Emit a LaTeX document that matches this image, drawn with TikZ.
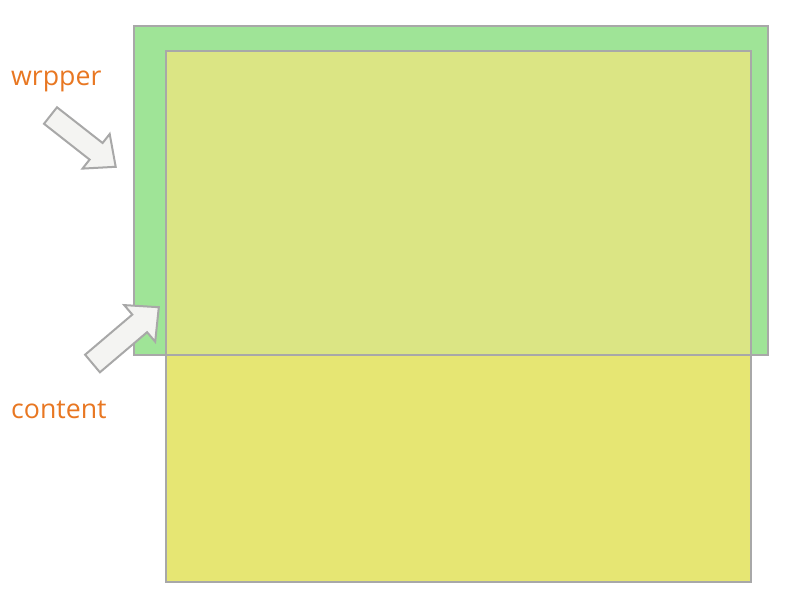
\documentclass[tikz,border=0pt]{standalone}
\usepackage{fontspec}
\setmainfont{Open Sans}
\definecolor{wrapgreen}{RGB}{159,228,151}
\definecolor{overlapcol}{RGB}{219,229,132}
\definecolor{contyellow}{RGB}{230,230,115}
\definecolor{edgegray}{RGB}{168,168,168}
\definecolor{labelorange}{RGB}{232,119,34}
\definecolor{arrowfill}{RGB}{244,244,242}
\tikzset{
  boxedge/.style={draw=edgegray, line width=2pt},
  blockarrow/.style={draw=edgegray, fill=arrowfill, line width=2pt, line join=miter},
  lbl/.style={text=labelorange, font=\fontsize{26.7}{32}\selectfont, inner sep=0pt, anchor=base west}
}
\begin{document}
\begin{tikzpicture}[x=1pt,y=-1pt]
\useasboundingbox (0,0) rectangle (800,609);
% fills
\fill[wrapgreen] (134,26) rectangle (768,355);
\fill[contyellow] (166,51) rectangle (751,582);
\fill[overlapcol] (166,51) rectangle (751,355);
% borders
\draw[boxedge] (134,26) rectangle (768,355);
\draw[boxedge] (166,51) rectangle (751,582);
% labels
\node[lbl] (wrp) at (11,86) {wrpper};
\node[lbl] (cnt) at (11,418) {content};
% block arrows
\draw[blockarrow] (44,123.8) -- (57,107.3) -- (102.6,143.0) -- (109.7,134.0) -- (115.7,166.8) -- (82.5,168.6) -- (89.6,159.6) -- cycle;
\draw[blockarrow] (85.1,354.7) -- (132.3,314.6) -- (124.2,305.1) -- (158.8,307.2) -- (155.2,341.7) -- (147.1,332.2) -- (99.9,372.3) -- cycle;
\end{tikzpicture}
\end{document}
